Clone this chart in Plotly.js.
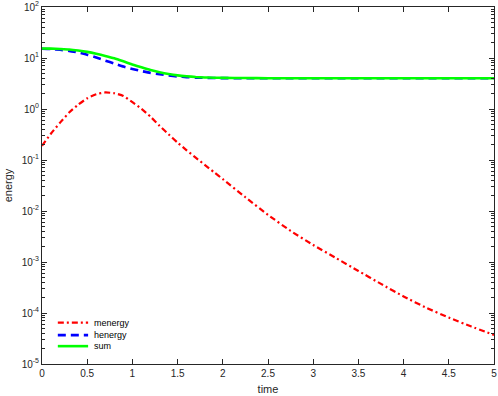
<!DOCTYPE html>
<html>
<head>
<meta charset="utf-8">
<script src="https://cdn.plot.ly/plotly-3.0.1.min.js"></script>
<style>
  html, body { margin: 0; padding: 0; background: #fff; }
  #plot { width: 498px; height: 396px; }
</style>
</head>
<body>
<div id="plot"></div>
<script>
// energy vs time, log y axis

const time = [0, 0.1, 0.2, 0.3, 0.4, 0.5, 0.6, 0.7, 0.8, 0.9, 1.0,
              1.1, 1.2, 1.3, 1.4, 1.5, 1.6, 1.7, 1.8, 1.9, 2.0,
              2.25, 2.5, 2.75, 3.0, 3.25, 3.5, 3.75, 4.0, 4.25, 4.5, 4.75, 5.0];

const menergy = [0.19, 0.331, 0.54, 0.851, 1.216, 1.62, 1.95, 2.11, 2.04, 1.80, 1.36,
                 1.01, 0.708, 0.468, 0.320, 0.219, 0.155, 0.111, 0.0804, 0.0582, 0.0422,
                 0.0186, 0.00841, 0.00407, 0.00216, 0.00120, 0.000668, 0.000372, 0.000211,
                 0.000127, 0.0000813, 0.0000543, 0.0000372];

const henergy = [15.2, 15.0, 14.5, 13.8, 12.8, 11.6, 10.2, 8.9, 7.8, 6.8, 6.1,
                 5.55, 5.1, 4.8, 4.55, 4.35, 4.22, 4.13, 4.08, 4.05, 4.03,
                 4.01, 4.0, 4.0, 4.0, 4.0, 4.0, 4.0, 4.0, 4.0, 4.0, 4.0, 4.0];

const sum = [15.4, 15.3, 15.0, 14.65, 14.0, 13.2, 12.15, 11.0, 9.85, 8.6, 7.46,
             6.56, 5.81, 5.27, 4.87, 4.57, 4.38, 4.24, 4.16, 4.11, 4.08,
             4.04, 4.02, 4.0, 4.0, 4.0, 4.0, 4.0, 4.0, 4.0, 4.0, 4.0, 4.0];

const xTicks = [0, 0.5, 1, 1.5, 2, 2.5, 3, 3.5, 4, 4.5, 5];
const decades = [-5, -4, -3, -2, -1, 0, 1, 2];

const AXIS = '#262626';
const FONT = 'Liberation Sans, Arial, sans-serif';

const yTickVals = decades.map(d => Math.pow(10, d));
const yTickText = decades.map(d => '10<sup>' + (d < 0 ? '-' + (-d) : d) + '</sup>');
const yMinor = [];
decades.slice(0, -1).forEach(d => {
    for (let k = 2; k <= 9; k++) yMinor.push(k * Math.pow(10, d));
});

const series = [
    { name: 'menergy', y: menergy, color: '#ff0000', width: 2.2, dash: '6px,3px,2px,3px' },
    { name: 'henergy', y: henergy, color: '#0000ff', width: 2.6, dash: '8px,5px' },
    { name: 'sum',     y: sum,     color: '#00ff00', width: 2.6, dash: 'solid' },
];

const traces = series.map(s => ({
    x: time, y: s.y, name: s.name,
    type: 'scatter', mode: 'lines',
    line: { color: s.color, width: s.width, dash: s.dash, shape: 'spline', smoothing: 0.5 },
    hoverinfo: 'skip',
}));

// hand-made legend (boxoff style, tight rows)
const legX0 = 0.035, legX1 = 0.102, legTx = 0.11;
const legY = [0.116, 0.081, 0.050];
const shapes = series.map((s, i) => ({
    type: 'line', xref: 'paper', yref: 'paper',
    x0: legX0, x1: legX1, y0: legY[i], y1: legY[i],
    line: { color: s.color, width: s.width, dash: s.dash },
}));
const annotations = series.map((s, i) => ({
    xref: 'paper', yref: 'paper', x: legTx, y: legY[i],
    xanchor: 'left', yanchor: 'middle', showarrow: false,
    text: s.name, font: { family: FONT, size: 9, color: '#000' },
}));

const layout = {
    width: 498, height: 396,
    margin: { l: 42, r: 4, t: 7, b: 32 },
    paper_bgcolor: '#fff', plot_bgcolor: '#fff',
    font: { family: FONT, size: 10, color: AXIS },
    showlegend: false,
    xaxis: {
        range: [0, 5], tickvals: xTicks, ticktext: xTicks.map(String),
        ticks: 'inside', ticklen: 5, tickcolor: AXIS, tickwidth: 1,
        showline: true, linecolor: AXIS, linewidth: 1, mirror: 'ticks',
        showgrid: false, zeroline: false, automargin: false,
        title: { text: 'time', font: { family: FONT, size: 11, color: AXIS }, standoff: 7 },
    },
    yaxis: {
        type: 'log', range: [-5, 2],
        tickvals: yTickVals, ticktext: yTickText,
        ticks: 'inside', ticklen: 5, tickcolor: AXIS, tickwidth: 1,
        minor: { tickvals: yMinor, ticks: 'inside', ticklen: 3, tickcolor: AXIS, showgrid: false },
        showline: true, linecolor: AXIS, linewidth: 1, mirror: 'ticks',
        showgrid: false, zeroline: false, automargin: false,
        title: { text: 'energy', font: { family: FONT, size: 11, color: AXIS }, standoff: 6 },
    },
    shapes, annotations,
};

Plotly.newPlot('plot', traces, layout, { displayModeBar: false, staticPlot: true });
</script>
</body>
</html>
